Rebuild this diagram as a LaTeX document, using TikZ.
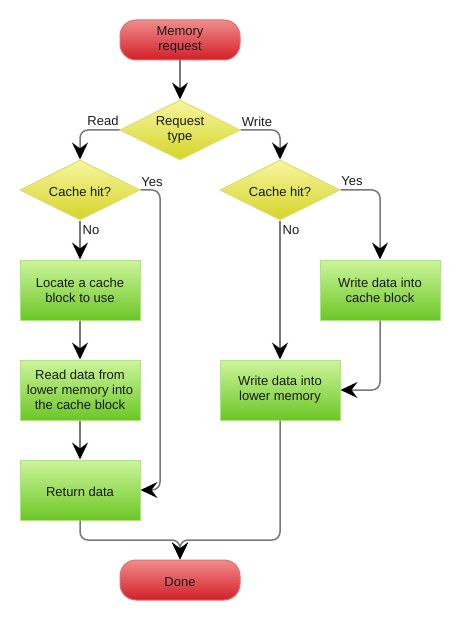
\documentclass[tikz,border=0pt]{standalone}
\usepackage{fontspec}
\setmainfont{Liberation Sans}
\usetikzlibrary{shapes.geometric,arrows.meta}
\definecolor{redT}{RGB}{240,140,140}
\definecolor{redB}{RGB}{210,30,40}
\definecolor{redD}{RGB}{228,110,110}
\definecolor{grnT}{RGB}{204,245,155}
\definecolor{grnB}{RGB}{108,198,38}
\definecolor{grnD}{RGB}{170,230,120}
\definecolor{ylwT}{RGB}{246,246,160}
\definecolor{ylwB}{RGB}{212,212,40}
\definecolor{ylwD}{RGB}{222,222,110}
\definecolor{linec}{RGB}{120,120,120}
\definecolor{textc}{RGB}{25,25,25}
\begin{document}
\begin{tikzpicture}[x=1pt,y=-1pt,
  font=\fontsize{13}{15}\selectfont,
  lowtext/.style={execute at begin node={\rule{0pt}{14pt}}},
  term/.style={rectangle, rounded corners=16pt, minimum width=120pt, minimum height=40pt,
    top color=redT, bottom color=redB, draw=redD, line width=1pt, align=center, text=textc, lowtext},
  decision/.style={diamond, aspect=2, minimum width=120pt, minimum height=60pt, inner sep=0pt,
    top color=ylwT, bottom color=ylwB, draw=ylwD, line width=1pt, align=center, text=textc, lowtext},
  proc/.style={rectangle, minimum width=120pt, minimum height=60pt, inner sep=2pt,
    top color=grnT, bottom color=grnB, draw=grnD, line width=1pt, align=center, text=textc, lowtext},
  conn/.style={draw=linec, line width=1.5pt, rounded corners=8pt,
    -{Stealth[length=17pt,width=16pt,inset=6pt,color=black]}},
  lab/.style={text=textc, inner sep=0pt}]
\useasboundingbox (0,0) rectangle (460,620);
\node[term] (mem) at (180,40) {Memory\\request};
\node[decision] (req) at (180,130) {Request\\type};
\node[decision] (hitL) at (80,190) {Cache hit?};
\node[decision] (hitR) at (280,190) {Cache hit?};
\node[proc] (locate) at (80,290) {Locate a cache\\block to use};
\node[proc] (readd) at (80,390) {Read data from\\lower memory into\\the cache block};
\node[proc] (ret) at (80,490) {Return data};
\node[proc] (wcache) at (380,290) {Write data into\\cache block};
\node[proc] (wlow) at (280,390) {Write data into\\lower memory};
\node[term] (done) at (180,580) {Done};
\coordinate (yl) at (160,490);
\coordinate (merge) at (180,540);
\draw[conn] (mem) -- (req);
\draw[conn] (req.west) -| (hitL.north);
\draw[conn] (req.east) -| (hitR.north);
\draw[conn] (hitL.east) -| (yl) -- (ret.east);
\draw[conn] (hitL.south) -- (locate.north);
\draw[conn] (locate) -- (readd);
\draw[conn] (readd) -- (ret);
\draw[conn] (hitR.east) -| (wcache.north);
\draw[conn] (hitR.south) -- (wlow.north);
\draw[conn] (wcache.south) |- (wlow.east);
\draw[conn] (ret.south) |- (merge) -- (done.north);
\draw[conn] (wlow.south) |- (merge) -- (done.north);
\node[lab] (lread) at (103,121) {Read};
\node[lab] (lwrite) at (257,122) {Write};
\node[lab] (lyesL) at (152,182) {Yes};
\node[lab] (lyesR) at (352,181) {Yes};
\node[lab] (lnoL) at (91,230) {No};
\node[lab] (lnoR) at (291,230) {No};
\end{tikzpicture}
\end{document}
